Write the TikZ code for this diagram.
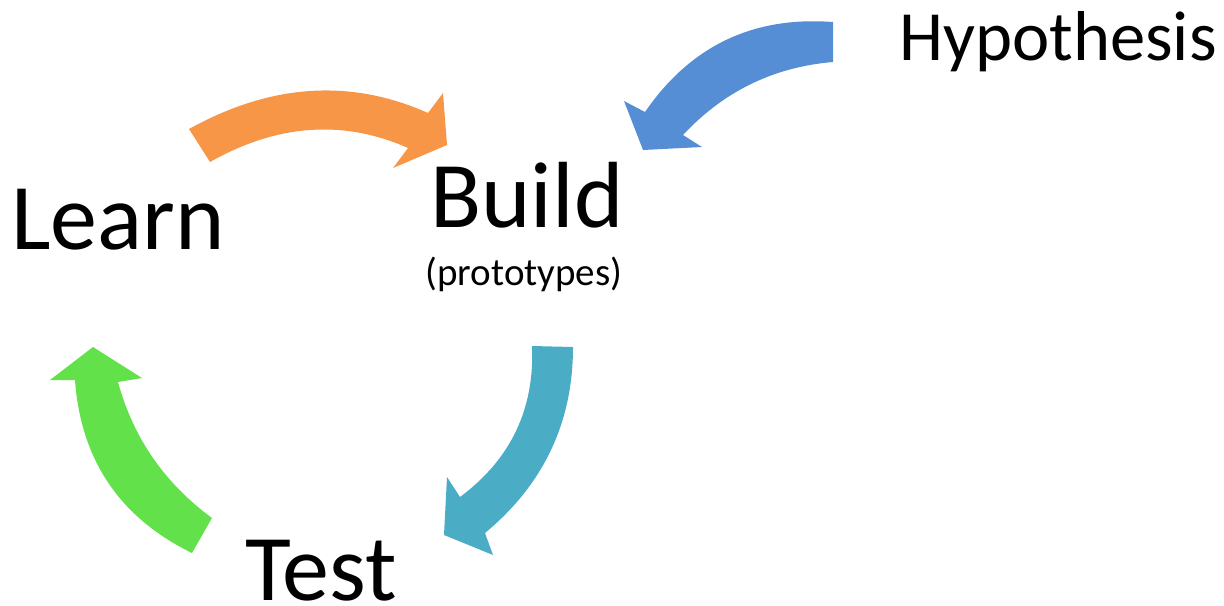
\documentclass[tikz,border=0pt]{standalone}
\usepackage{fontspec}
\setmainfont{Carlito}
\definecolor{cOrange}{HTML}{F79646}
\definecolor{cBlue}{HTML}{558ED5}
\definecolor{cTeal}{HTML}{4BACC6}
\definecolor{cGreen}{HTML}{62E14A}
\tikzset{
  bigword/.style={anchor=base, inner sep=0pt, font=\fontsize{47}{50}\selectfont},
  hypword/.style={anchor=base, inner sep=0pt, font=\fontsize{35.3}{40}\selectfont},
  smallword/.style={anchor=base, inner sep=0pt, font=\fontsize{19.5}{22}\selectfont}
}
\begin{document}
\begin{tikzpicture}[x=0.5pt, y=-0.5pt]
\useasboundingbox (0,0) rectangle (1224,605);

% labels
\node[bigword] (learn) at (118,249) {Learn};
\node[bigword] (build) at (527,227) {Build};
\node[smallword] (proto) at (524,285) {(prototypes)};
\node[bigword, text depth=0pt] (test) at (321,600) {Test};
\node[hypword] (hyp) at (1058,60) {Hypothesis};

% Learn -> Build
\fill[cOrange] (189,129) .. controls (270.7,83.7) and (350.3,78.3) .. (428,113)
  -- (443,93) -- (447,145) -- (393,168) -- (408,148)
  .. controls (343.3,119.3) and (277.3,124) .. (210,162) -- cycle;

% Hypothesis -> Build
\fill[cBlue] (833,22) .. controls (753,16) and (690.3,46) .. (645,112)
  -- (624,101) -- (643,150) -- (702,147) -- (683,135)
  .. controls (723.7,91.3) and (773.7,67) .. (833,62) -- cycle;

% Build -> Test
\fill[cTeal] (573,347) .. controls (573,422.3) and (543.7,484.3) .. (485,533)
  -- (493,555) -- (444,535) -- (447,477) -- (460,497)
  .. controls (510.7,459.3) and (534.7,409) .. (532,346) -- cycle;

% Test -> Learn
\fill[cGreen] (192,553) .. controls (119.8,517.7) and (80.8,460) .. (75,380)
  -- (50,380) -- (93,347) -- (142,378) -- (118,382)
  .. controls (133.3,438) and (164.7,483.3) .. (212,518) -- cycle;
\end{tikzpicture}
\end{document}
